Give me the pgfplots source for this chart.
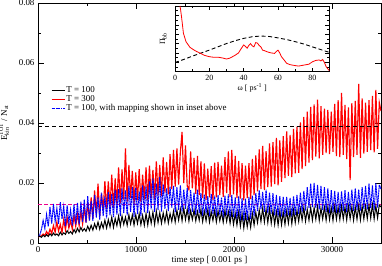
\documentclass[border=0pt]{standalone}
\usepackage{fontspec}
\setmainfont{Liberation Serif}
\usepackage{amsmath}
\usepackage{pgfplots}
\usepackage{pgfplotstable}
\pgfplotsset{compat=1.18}
\pgfplotstableread{
t b r u
0 0.0020 0.0020 0.0020
175 0.0023 0.0022 0.0026
350 0.0019 0.0024 0.0045
525 0.0026 0.0030 0.0075
700 0.0021 0.0025 0.0048
875 0.0028 0.0038 0.0095
1050 0.0022 0.0028 0.0055
1225 0.0031 0.0046 0.0120
1400 0.0024 0.0032 0.0065
1575 0.0033 0.0058 0.0130
1750 0.0026 0.0036 0.0072
1925 0.0030 0.0070 0.0115
2100 0.0024 0.0040 0.0064
2275 0.0036 0.0062 0.0136
2450 0.0027 0.0035 0.0080
2625 0.0034 0.0078 0.0122
2800 0.0029 0.0044 0.0056
2975 0.0041 0.0086 0.0125
3150 0.0032 0.0050 0.0068
3325 0.0038 0.0074 0.0110
3500 0.0030 0.0046 0.0058
3675 0.0045 0.0092 0.0129
3850 0.0034 0.0056 0.0062
4025 0.0049 0.0098 0.0134
4200 0.0037 0.0058 0.0062
4375 0.0052 0.0105 0.0138
4550 0.0040 0.0064 0.0070
4725 0.0048 0.0120 0.0145
4900 0.0039 0.0068 0.0068
5075 0.0056 0.0135 0.0156
5250 0.0042 0.0076 0.0075
5425 0.0059 0.0152 0.0140
5600 0.0043 0.0082 0.0074
5775 0.0064 0.0175 0.0160
5950 0.0048 0.0095 0.0085
6125 0.0070 0.0198 0.0152
6300 0.0046 0.0090 0.0078
6475 0.0068 0.0165 0.0168
6650 0.0050 0.0108 0.0090
6825 0.0076 0.0206 0.0155
7000 0.0050 0.0112 0.0082
7175 0.0078 0.0205 0.0170
7350 0.0054 0.0120 0.0092
7525 0.0086 0.0228 0.0164
7700 0.0052 0.0116 0.0086
7875 0.0082 0.0215 0.0178
8050 0.0058 0.0130 0.0095
8225 0.0090 0.0252 0.0180
8400 0.0057 0.0132 0.0090
8575 0.0090 0.0245 0.0182
8750 0.0062 0.0145 0.0100
8925 0.0086 0.0315 0.0175
9100 0.0059 0.0138 0.0092
9275 0.0094 0.0260 0.0190
9450 0.0064 0.0150 0.0104
9625 0.0093 0.0240 0.0186
9800 0.0060 0.0130 0.0087
9975 0.0094 0.0235 0.0184
10150 0.0065 0.0142 0.0096
10325 0.0097 0.0246 0.0172
10500 0.0061 0.0136 0.0090
10675 0.0092 0.0228 0.0192
10850 0.0059 0.0145 0.0102
11025 0.0098 0.0252 0.0188
11200 0.0060 0.0142 0.0100
11375 0.0099 0.0258 0.0205
11550 0.0066 0.0150 0.0112
11725 0.0103 0.0244 0.0216
11900 0.0062 0.0146 0.0104
12075 0.0106 0.0272 0.0198
12250 0.0068 0.0158 0.0110
12425 0.0101 0.0260 0.0220
12600 0.0066 0.0156 0.0105
12775 0.0100 0.0285 0.0195
12950 0.0070 0.0168 0.0114
13125 0.0104 0.0270 0.0182
13300 0.0067 0.0162 0.0106
13475 0.0098 0.0296 0.0188
13650 0.0072 0.0180 0.0118
13825 0.0106 0.0310 0.0190
14000 0.0070 0.0188 0.0102
14175 0.0109 0.0315 0.0186
14350 0.0076 0.0195 0.0110
14525 0.0113 0.0302 0.0192
14700 0.0074 0.0370 0.0105
14875 0.0116 0.0200 0.0178
15050 0.0078 0.0325 0.0114
15225 0.0112 0.0190 0.0184
15400 0.0073 0.0178 0.0096
15575 0.0108 0.0305 0.0176
15750 0.0078 0.0182 0.0104
15925 0.0110 0.0284 0.0168
16100 0.0074 0.0164 0.0094
16275 0.0105 0.0290 0.0178
16450 0.0076 0.0160 0.0100
16625 0.0111 0.0272 0.0166
16800 0.0071 0.0150 0.0090
16975 0.0106 0.0265 0.0162
17150 0.0074 0.0144 0.0098
17325 0.0110 0.0248 0.0156
17500 0.0070 0.0152 0.0089
17675 0.0104 0.0256 0.0164
17850 0.0075 0.0143 0.0096
18025 0.0108 0.0268 0.0158
18200 0.0070 0.0152 0.0086
18375 0.0106 0.0270 0.0160
18550 0.0074 0.0160 0.0094
18725 0.0102 0.0258 0.0152
18900 0.0069 0.0154 0.0084
19075 0.0108 0.0286 0.0158
19250 0.0072 0.0166 0.0092
19425 0.0104 0.0305 0.0162
19600 0.0066 0.0154 0.0078
19775 0.0104 0.0310 0.0160
19950 0.0062 0.0162 0.0086
20125 0.0098 0.0290 0.0152
20300 0.0060 0.0150 0.0076
20475 0.0102 0.0274 0.0156
20650 0.0056 0.0148 0.0074
20825 0.0096 0.0266 0.0150
21000 0.0050 0.0142 0.0072
21175 0.0094 0.0258 0.0148
21350 0.0054 0.0150 0.0076
21525 0.0090 0.0266 0.0154
21700 0.0052 0.0146 0.0080
21875 0.0098 0.0280 0.0158
22050 0.0060 0.0160 0.0090
22225 0.0102 0.0292 0.0166
22400 0.0068 0.0172 0.0106
22575 0.0110 0.0312 0.0176
22750 0.0072 0.0180 0.0112
22925 0.0116 0.0324 0.0170
23100 0.0070 0.0176 0.0104
23275 0.0112 0.0306 0.0178
23450 0.0068 0.0186 0.0100
23625 0.0114 0.0332 0.0168
23800 0.0066 0.0188 0.0098
23975 0.0108 0.0336 0.0166
24150 0.0062 0.0196 0.0092
24325 0.0104 0.0350 0.0160
24500 0.0060 0.0192 0.0088
24675 0.0106 0.0342 0.0156
24850 0.0061 0.0204 0.0088
25025 0.0103 0.0356 0.0154
25200 0.0062 0.0216 0.0088
25375 0.0106 0.0372 0.0154
25550 0.0066 0.0224 0.0092
25725 0.0109 0.0360 0.0150
25900 0.0064 0.0220 0.0087
26075 0.0110 0.0380 0.0156
26250 0.0068 0.0232 0.0094
26425 0.0108 0.0388 0.0160
26600 0.0072 0.0234 0.0096
26775 0.0114 0.0402 0.0168
26950 0.0076 0.0246 0.0102
27125 0.0118 0.0420 0.0174
27300 0.0073 0.0256 0.0108
27475 0.0112 0.0438 0.0186
27650 0.0076 0.0268 0.0116
27825 0.0119 0.0454 0.0198
28000 0.0076 0.0276 0.0120
28175 0.0118 0.0462 0.0200
28350 0.0079 0.0288 0.0116
28525 0.0121 0.0478 0.0194
28700 0.0075 0.0282 0.0112
28875 0.0116 0.0456 0.0190
29050 0.0080 0.0294 0.0110
29225 0.0120 0.0448 0.0186
29400 0.0076 0.0300 0.0104
29575 0.0120 0.0444 0.0182
29750 0.0078 0.0296 0.0100
29925 0.0117 0.0438 0.0176
30100 0.0075 0.0304 0.0102
30275 0.0122 0.0464 0.0174
30450 0.0079 0.0290 0.0100
30625 0.0118 0.0476 0.0170
30800 0.0078 0.0286 0.0100
30975 0.0122 0.0500 0.0172
31150 0.0080 0.0294 0.0106
31325 0.0119 0.0460 0.0176
31500 0.0077 0.0280 0.0102
31675 0.0123 0.0452 0.0170
31850 0.0081 0.0210 0.0108
32025 0.0120 0.0466 0.0178
32200 0.0076 0.0286 0.0106
32375 0.0120 0.0474 0.0182
32550 0.0079 0.0294 0.0110
32725 0.0124 0.0530 0.0178
32900 0.0077 0.0284 0.0108
33075 0.0122 0.0482 0.0186
33250 0.0080 0.0298 0.0114
33425 0.0123 0.0468 0.0190
33600 0.0081 0.0304 0.0112
33775 0.0126 0.0476 0.0198
33950 0.0083 0.0310 0.0116
34125 0.0128 0.0490 0.0192
34300 0.0080 0.0302 0.0110
34475 0.0124 0.0510 0.0200
34650 0.0084 0.0314 0.0118
34825 0.0127 0.0468 0.0194
35000 0.0120 0.0440 0.0180
}\datatab
\begin{document}
\begin{tikzpicture}
\useasboundingbox (-38bp,-23bp) rectangle (344bp,243bp);
\begin{axis}[
  at={(0,0)}, anchor=south west,
  scale only axis, width=343bp, height=240bp,
  xmin=0, xmax=35000, ymin=0, ymax=0.08,
  xtick={0,10000,20000,30000}, minor x tick num=1,
  ytick={0,0.02,0.04,0.06,0.08}, minor y tick num=1,
  scaled x ticks=false, scaled y ticks=false,
  xticklabel style={/pgf/number format/fixed,/pgf/number format/1000 sep={}},
  yticklabel style={/pgf/number format/fixed,/pgf/number format/precision=2},
  /pgf/number format/assume math mode=true,
  tick align=inside,
  major tick length=6bp, minor tick length=3bp,
  tick style={black, line width=0.6bp},
  axis line style={line width=0.8bp},
  ticklabel style={font=\fontsize{9}{10}\selectfont},
  label style={font=\fontsize{9}{10}\selectfont},
  xlabel={time step [ 0.001 ps ]},
  ylabel={E$^{\text{TOT}}_{\text{kin}}$ / N\textsubscript{at}},
  xlabel style={yshift=3bp},
  ylabel style={yshift=3bp},
  legend cell align=left,
  legend style={draw=none, fill=none, at={(0.029,0.667)}, anchor=north west,
    font=\fontsize{9}{9}\selectfont, row sep=-1.5bp,
    nodes={inner sep=1.5bp}},
  legend image code/.code={\draw[#1] (0bp,0bp) -- (13bp,0bp);},
]
\addlegendimage{black, line width=0.8bp}
\addlegendentry{T = 100}
\addlegendimage{red, line width=0.8bp}
\addlegendentry{T = 300}
\addlegendimage{blue, line width=0.8bp, densely dashdotted}
\addlegendentry{T = 100, with mapping shown in inset above}
\addplot[forget plot, red, line width=1.15bp, line join=miter] table[x=t, y=r] {\datatab};
\addplot[forget plot, magenta, line width=0.8bp, dash pattern=on 4bp off 2bp] coordinates {(0,0.0129) (35000,0.0129)};
\addplot[forget plot, blue, line width=1.0bp, dash pattern=on 2bp off 0.5bp] table[x=t, y=u] {\datatab};
\addplot[forget plot, black, line width=1.0bp] table[x=t, y=b] {\datatab};
\addplot[forget plot, black, line width=0.9bp, dash pattern=on 4bp off 3bp] coordinates {(0,0.0388) (35000,0.0388)};
\end{axis}
\begin{axis}[
  at={(137bp,171.3bp)}, anchor=south west,
  scale only axis, width=154.5bp, height=65.7bp,
  axis background/.style={fill=white},
  xmin=0, xmax=90, ymin=0, ymax=14,
  xtick={0,20,40,60,80}, minor x tick num=1,
  ytick={0,2,4,6,8,10,12,14}, minor y tick num=1, yticklabels={},
  /pgf/number format/assume math mode=true,
  tick align=inside,
  major tick length=4bp, minor tick length=2.5bp,
  tick style={black, line width=0.5bp},
  axis line style={line width=0.7bp},
  ticklabel style={font=\fontsize{8}{9}\selectfont},
  label style={font=\fontsize{8}{9}\selectfont},
  xlabel={ω [ ps\textsuperscript{-1} ]},
  ylabel={Π\textsubscript{bb}},
  xlabel style={yshift=4bp},
  ylabel style={yshift=-2bp},
]
\addplot[black, line width=0.9bp, dash pattern=on 4bp off 2.5bp] coordinates {
(0,1.96) (5,2.6) (10,3.3) (15,3.95) (20,4.6) (25,5.3) (30,6.0) (35,6.6) (40,7.1) (45,7.45) (50,7.6) (55,7.5) (60,7.2) (65,6.85) (70,6.4) (75,5.9) (80,5.3) (85,4.7) (90,4.1)};
\addplot[red, line width=0.8bp] coordinates {
(2.9,14.0) (3.3,13.1) (3.9,11.4) (4.9,8.2) (6.4,6.4) (8.7,5.2) (10.7,4.7) (12.6,4.3) (15,3.9) (17,3.5) (20,3.2) (22,3.1) (25,3.1) (28,2.9) (30,2.7) (32,2.9) (35,3.5) (37,4.0) (38,4.6) (40,5.7) (41,5.4) (42,5.0) (43,5.6) (44,6.0) (45,5.5) (46,5.3) (47,6.2) (48,6.1) (49,5.6) (50,5.3) (51,4.6) (52,4.5) (54,4.2) (56,4.0) (58,3.9) (59,4.3) (60,4.6) (61,4.0) (62,3.2) (64,2.3) (65,1.8) (67,1.5) (70,1.3) (72,1.2) (75,1.4) (78,1.6) (80,2.1) (82,2.4) (84,2.5) (85,2.3) (86,2.6) (87,2.0) (88,1.1) (89,0.6) (90,0.2)};
\end{axis}
\end{tikzpicture}
\end{document}
